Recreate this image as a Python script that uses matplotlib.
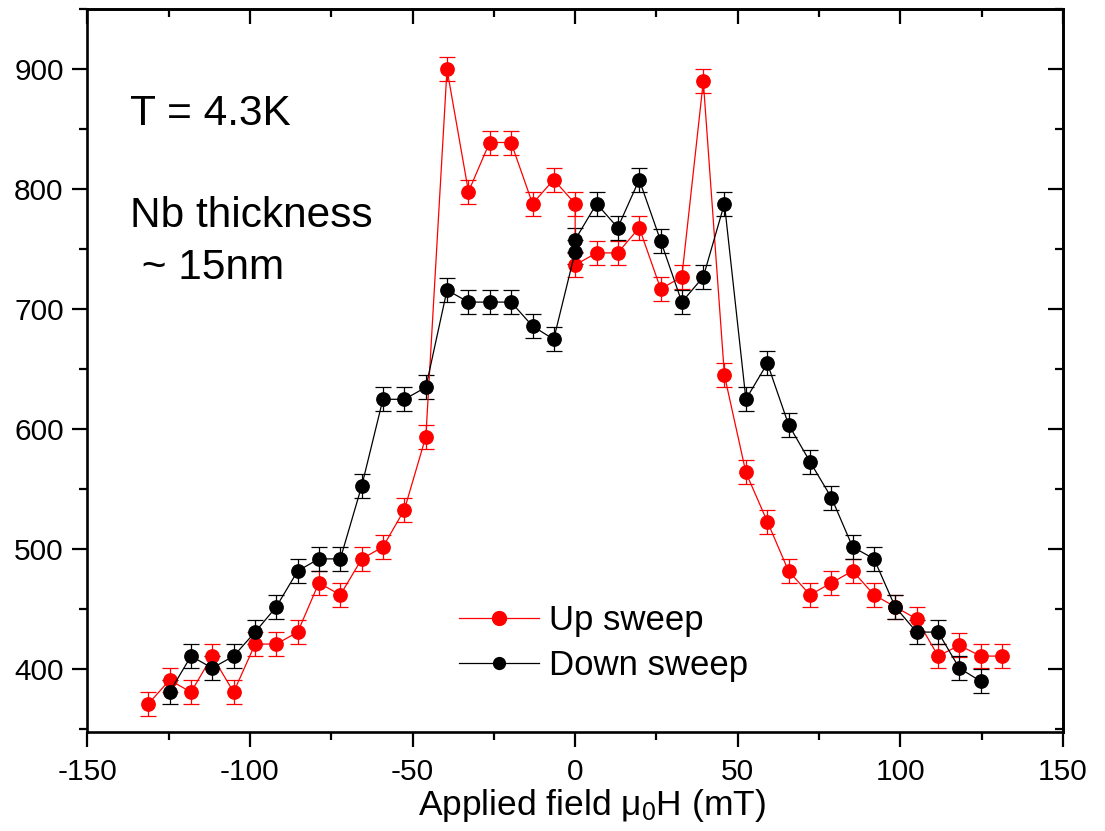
import numpy as np
import matplotlib
matplotlib.use("Agg")
import matplotlib.pyplot as plt
from matplotlib.ticker import MultipleLocator
from matplotlib.lines import Line2D

plt.rcParams['font.family'] = ['Liberation Sans', 'DejaVu Sans']
plt.rcParams['mathtext.fontset'] = 'custom'
plt.rcParams['mathtext.rm'] = 'Liberation Sans'
plt.rcParams['mathtext.it'] = 'Liberation Sans:italic'
plt.rcParams['axes.unicode_minus'] = False

# field values (mT), two readings at zero field
field_up = [-131.3, -124.7, -118.1, -111.6, -105.0, -98.4, -91.9, -85.3, -78.8, -72.2,
            -65.6, -59.1, -52.5, -45.9, -39.4, -32.8, -26.3, -19.7, -13.1, -6.6,
            0.0, 0.0, 6.6, 13.1, 19.7, 26.3, 32.8, 39.4, 45.9, 52.5,
            59.1, 65.6, 72.2, 78.8, 85.3, 91.9, 98.4, 105.0, 111.6, 118.1,
            124.7, 131.3]
up_vals = [371, 391, 381, 411, 381, 421, 421, 431, 472, 462,
           492, 502, 533, 594, 900, 798, 839, 839, 788, 808,
           788, 737, 747, 747, 768, 717, 727, 890, 645, 564,
           523, 482, 462, 472, 482, 462, 452, 442, 411, 420,
           411, 411]

field_down = [-124.7, -118.1, -111.6, -105.0, -98.4, -91.9, -85.3, -78.8, -72.2,
              -65.6, -59.1, -52.5, -45.9, -39.4, -32.8, -26.3, -19.7, -13.1, -6.6,
              0.0, 0.0, 6.6, 13.1, 19.7, 26.3, 32.8, 39.4, 45.9, 52.5,
              59.1, 65.6, 72.2, 78.8, 85.3, 91.9, 98.4, 105.0, 111.6, 118.1,
              124.7]
down_vals = [381, 411, 401, 411, 431, 452, 482, 492, 492,
             553, 625, 625, 635, 716, 706, 706, 706, 686, 675,
             748, 758, 788, 768, 808, 757, 706, 727, 788, 625,
             655, 604, 573, 543, 502, 492, 452, 431, 431, 401,
             390]

err = 10
red = '#ff0000'

fig = plt.figure(figsize=(11.05, 8.31), dpi=100)
ax = fig.add_axes([0.079, 0.1195, 0.883, 0.8693])

ax.errorbar(field_up, up_vals, yerr=err, color=red, marker='o', markersize=9.6,
            linewidth=0.9, elinewidth=0.9, capsize=5.8, capthick=0.9)
ax.errorbar(field_down, down_vals, yerr=err, color='black', marker='o', markersize=9.6,
            linewidth=0.9, elinewidth=0.9, capsize=5.8, capthick=0.9)

ax.set_xlim(-150, 150)
ax.set_ylim(348, 950)
ax.xaxis.set_major_locator(MultipleLocator(50))
ax.xaxis.set_minor_locator(MultipleLocator(25))
ax.yaxis.set_minor_locator(MultipleLocator(50))
ax.set_yticks([400, 500, 600, 700, 800, 900])

ax.tick_params(which='both', direction='out', width=1.6, labelsize=21.5, top=False, right=False)
ax.tick_params(which='major', length=11, pad=6)
ax.tick_params(which='minor', length=6)
ax.tick_params(axis='x', which='major', pad=8)

for s in ax.spines.values():
    s.set_linewidth(1.9)

top = ax.secondary_xaxis('top')
top.xaxis.set_major_locator(MultipleLocator(50))
top.xaxis.set_minor_locator(MultipleLocator(25))
top.tick_params(which='both', direction='in', width=1.6, labeltop=False)
top.tick_params(which='major', length=11)
top.tick_params(which='minor', length=6)
top.spines['top'].set_linewidth(1.9)

right = ax.secondary_yaxis('right')
right.yaxis.set_major_locator(MultipleLocator(100))
right.yaxis.set_minor_locator(MultipleLocator(50))
right.tick_params(which='both', direction='in', width=1.6, labelright=False)
right.tick_params(which='major', length=11)
right.tick_params(which='minor', length=6)
right.spines['right'].set_linewidth(1.9)

fig.text(592 / 1105, 1 - 815 / 831, "Applied field \u03bc$_0$H (mT)", fontsize=25.5,
         ha='center', va='baseline')

ax.text(0.044, 0.84, "T = 4.3K", transform=ax.transAxes, fontsize=30.5)
ax.text(0.044, 0.698, "Nb thickness", transform=ax.transAxes, fontsize=30.5)
ax.text(0.044, 0.626, " ~ 15nm", transform=ax.transAxes, fontsize=30.5)

handles = [Line2D([], [], color=red, marker='o', markersize=10, linewidth=0.9),
           Line2D([], [], color='black', marker='o', markersize=8.5, linewidth=0.9)]
ax.legend(handles, ['Up sweep', 'Down sweep'], loc='upper left',
          bbox_to_anchor=(0.381, 0.177), frameon=False, fontsize=25,
          handlelength=2.3, handletextpad=0.3, borderpad=0, borderaxespad=0,
          labelspacing=0.35)

fig.savefig("out.png", dpi=100)
